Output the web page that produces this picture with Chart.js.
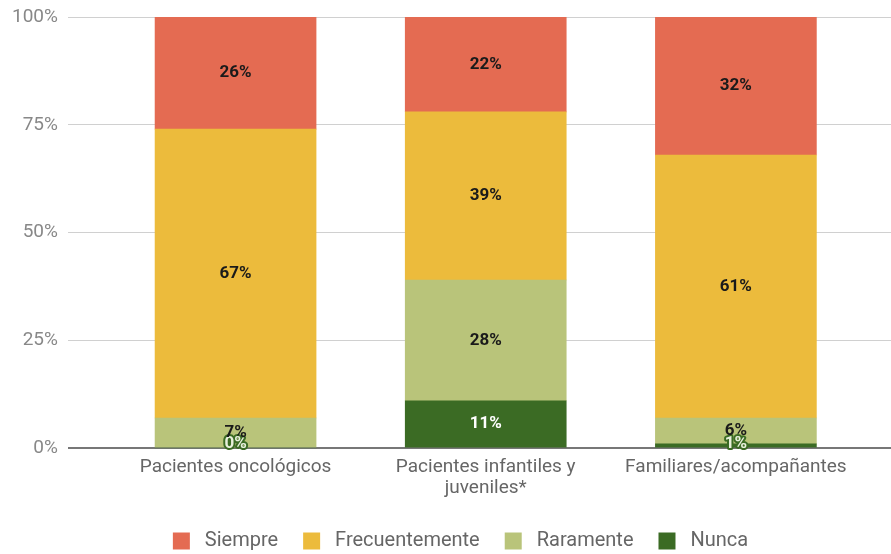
<!DOCTYPE html>
<html>
<head>
<meta charset="utf-8">
<script src="https://cdn.jsdelivr.net/npm/chart.js@4.4.1/dist/chart.umd.min.js"></script>
<style>
  html, body { margin: 0; padding: 0; background: #fff; }
  #wrap { width: 891px; height: 554px; overflow: hidden; }
</style>
</head>
<body>
<div id="wrap"><canvas id="chart" width="891" height="554"></canvas></div>
<script>
// Categories and response shares (%)
const categories = ['Pacientes oncológicos', ['Pacientes infantiles y', 'juveniles*'], 'Familiares/acompañantes'];
const siempre = [26, 22, 32];
const frecuentemente = [67, 39, 61];
const raramente = [7, 28, 6];
const nunca = [0, 11, 1];
const yTicks = [0, 25, 50, 75, 100];

const FONT = 'Roboto, "Noto Sans", sans-serif';

function toPoints(values) {
    return values.map((v, i) => ({ x: i, y: v }));
}

// Value labels centred in each stacked segment
const segmentLabels = {
    id: 'segmentLabels',
    afterDatasetsDraw(chart) {
        const ctx = chart.ctx;
        const base = chart.scales.y.getPixelForValue(0);
        ctx.save();
        ctx.font = 'bold 17px ' + FONT;
        ctx.textAlign = 'center';
        ctx.textBaseline = 'middle';
        chart.data.datasets.forEach((ds, di) => {
            const meta = chart.getDatasetMeta(di);
            meta.data.forEach((bar, i) => {
                const v = ds.data[i].y;
                const text = v + '%';
                let y = (bar.y + bar.base) / 2;
                y = Math.min(y, base - 4);
                if (ds.label === 'Nunca' && v < 3) {
                    ctx.lineWidth = 4;
                    ctx.strokeStyle = '#3b6b24';
                    ctx.lineJoin = 'round';
                    ctx.strokeText(text, bar.x, y);
                    ctx.fillStyle = '#e8f0dc';
                } else if (ds.label === 'Nunca') {
                    ctx.fillStyle = '#ffffff';
                } else {
                    ctx.fillStyle = '#1a1a1a';
                }
                ctx.fillText(text, bar.x, y);
            });
        });
        ctx.restore();
    }
};

// nudge the legend row a little to the right
const legendShift = {
    id: 'legendShift',
    afterLayout(chart) {
        chart.legend.left += 14;
        chart.legend.right += 14;
    }
};

new Chart(document.getElementById('chart').getContext('2d'), {
    type: 'bar',
    data: {
        datasets: [
            { label: 'Nunca', data: toPoints(nunca), backgroundColor: '#3b6b24' },
            { label: 'Raramente', data: toPoints(raramente), backgroundColor: '#b9c47a' },
            { label: 'Frecuentemente', data: toPoints(frecuentemente), backgroundColor: '#ecbb3c' },
            { label: 'Siempre', data: toPoints(siempre), backgroundColor: '#e46b52' }
        ]
    },
    options: {
        responsive: false,
        animation: false,
        layout: { padding: { left: 2, right: 0, top: 17, bottom: -7 } },
        datasets: { bar: { barThickness: 161, borderWidth: 0 } },
        plugins: {
            legend: {
                position: 'bottom',
                reverse: true,
                labels: {
                    boxWidth: 17,
                    boxHeight: 17,
                    padding: 25,
                    color: '#666',
                    font: { family: FONT, size: 20 },
                    generateLabels(chart) {
                        const items = Chart.defaults.plugins.legend.labels.generateLabels(chart);
                        items.forEach(it => { it.text = ' ' + it.text; });
                        return items;
                    }
                }
            },
            tooltip: { enabled: false }
        },
        scales: {
            x: {
                type: 'linear',
                stacked: true,
                offset: false,
                min: -0.67,
                max: 2.62,
                afterBuildTicks(scale) {
                    scale.ticks = categories.map((c, i) => ({ value: i }));
                },
                afterFit(scale) {
                    scale.height += 6;
                },
                grid: { display: false },
                border: { display: false },
                ticks: {
                    autoSkip: false,
                    maxRotation: 0,
                    padding: 1,
                    color: '#666',
                    font: { family: FONT, size: 19, lineHeight: 1.1 },
                    callback: (v) => categories[v]
                }
            },
            y: {
                stacked: true,
                min: 0,
                max: 100,
                afterBuildTicks(scale) {
                    scale.ticks = yTicks.map(v => ({ value: v }));
                },
                afterFit(scale) {
                    scale.paddingTop = 0;
                },
                grid: {
                    color: (c) => c.tick.value === 0 ? '#777' : '#d0d0d0',
                    lineWidth: (c) => c.tick.value === 0 ? 2 : 1,
                    drawTicks: false
                },
                border: { display: false },
                ticks: {
                    padding: 10,
                    color: '#888',
                    font: { family: FONT, size: 19 },
                    callback: (v) => v + '%'
                }
            }
        }
    },
    plugins: [segmentLabels, legendShift]
});
</script>
</body>
</html>
